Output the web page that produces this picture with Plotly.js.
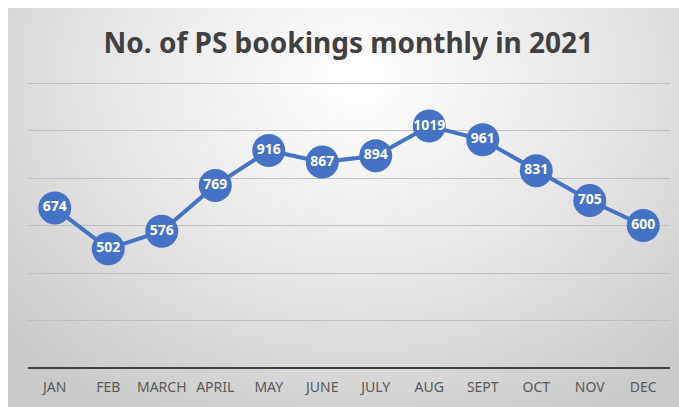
<!DOCTYPE html>
<html>
<head>
<meta charset="utf-8">
<script src="https://cdn.plot.ly/plotly-3.0.1.min.js"></script>
<style>
html,body{margin:0;padding:0;background:#fff;}
#wrap{position:absolute;left:8px;top:8px;width:671px;height:399px;
background:radial-gradient(ellipse 70% 95% at 52% 18%, #ffffff 0%, #e8e8e8 50%, #cacaca 100%);}
#chart{position:absolute;left:0;top:0;width:679px;height:407px;}
</style>
</head>
<body>
<div id="wrap"></div>
<div id="chart"></div>
<script>
const months = ["JAN","FEB","MARCH","APRIL","MAY","JUNE","JULY","AUG","SEPT","OCT","NOV","DEC"];
const bookings = [674,502,576,769,916,867,894,1019,961,831,705,600];
const chartTitle = "No. of PS bookings monthly in 2021";

const trace = {
  x: months, y: bookings, type: "scatter", mode: "lines+markers+text",
  text: bookings.map(String), textposition: "middle center",
  textfont: {family: "Noto Sans, sans-serif", size: 14, color: "#ffffff", weight: 700},
  line: {color: "#4472C4", width: 4},
  marker: {color: "#4472C4", size: 33},
  hoverinfo: "none", cliponaxis: false
};
const layout = {
  width: 679, height: 407,
  margin: {l: 28, r: 9, t: 79, b: 39},
  paper_bgcolor: "rgba(0,0,0,0)", plot_bgcolor: "rgba(0,0,0,0)",
  showlegend: false,
  title: {text: "<b>" + chartTitle + "</b>", x: 0.513, xanchor: "center", y: 0.895, yanchor: "middle",
    font: {family: "Noto Sans, sans-serif", size: 28, color: "#404040"}},
  xaxis: {type: "category", range: [-0.5, 11.5], showgrid: false, zeroline: false, showline: false, ticks: "",
    ticklabelstandoff: 9,
    tickfont: {family: "Noto Sans, sans-serif", size: 14, color: "#595959"}, fixedrange: true},
  yaxis: {range: [0, 1217], tickvals: [200, 400, 600, 800, 1000, 1200], showticklabels: false, showgrid: true, gridcolor: "#bfbfbf", gridwidth: 1,
    zeroline: true, zerolinecolor: "#404040", zerolinewidth: 2.5, showline: false, ticks: "", fixedrange: true}
};
Plotly.newPlot("chart", [trace], layout, {staticPlot: true, displayModeBar: false});
</script>
</body>
</html>
